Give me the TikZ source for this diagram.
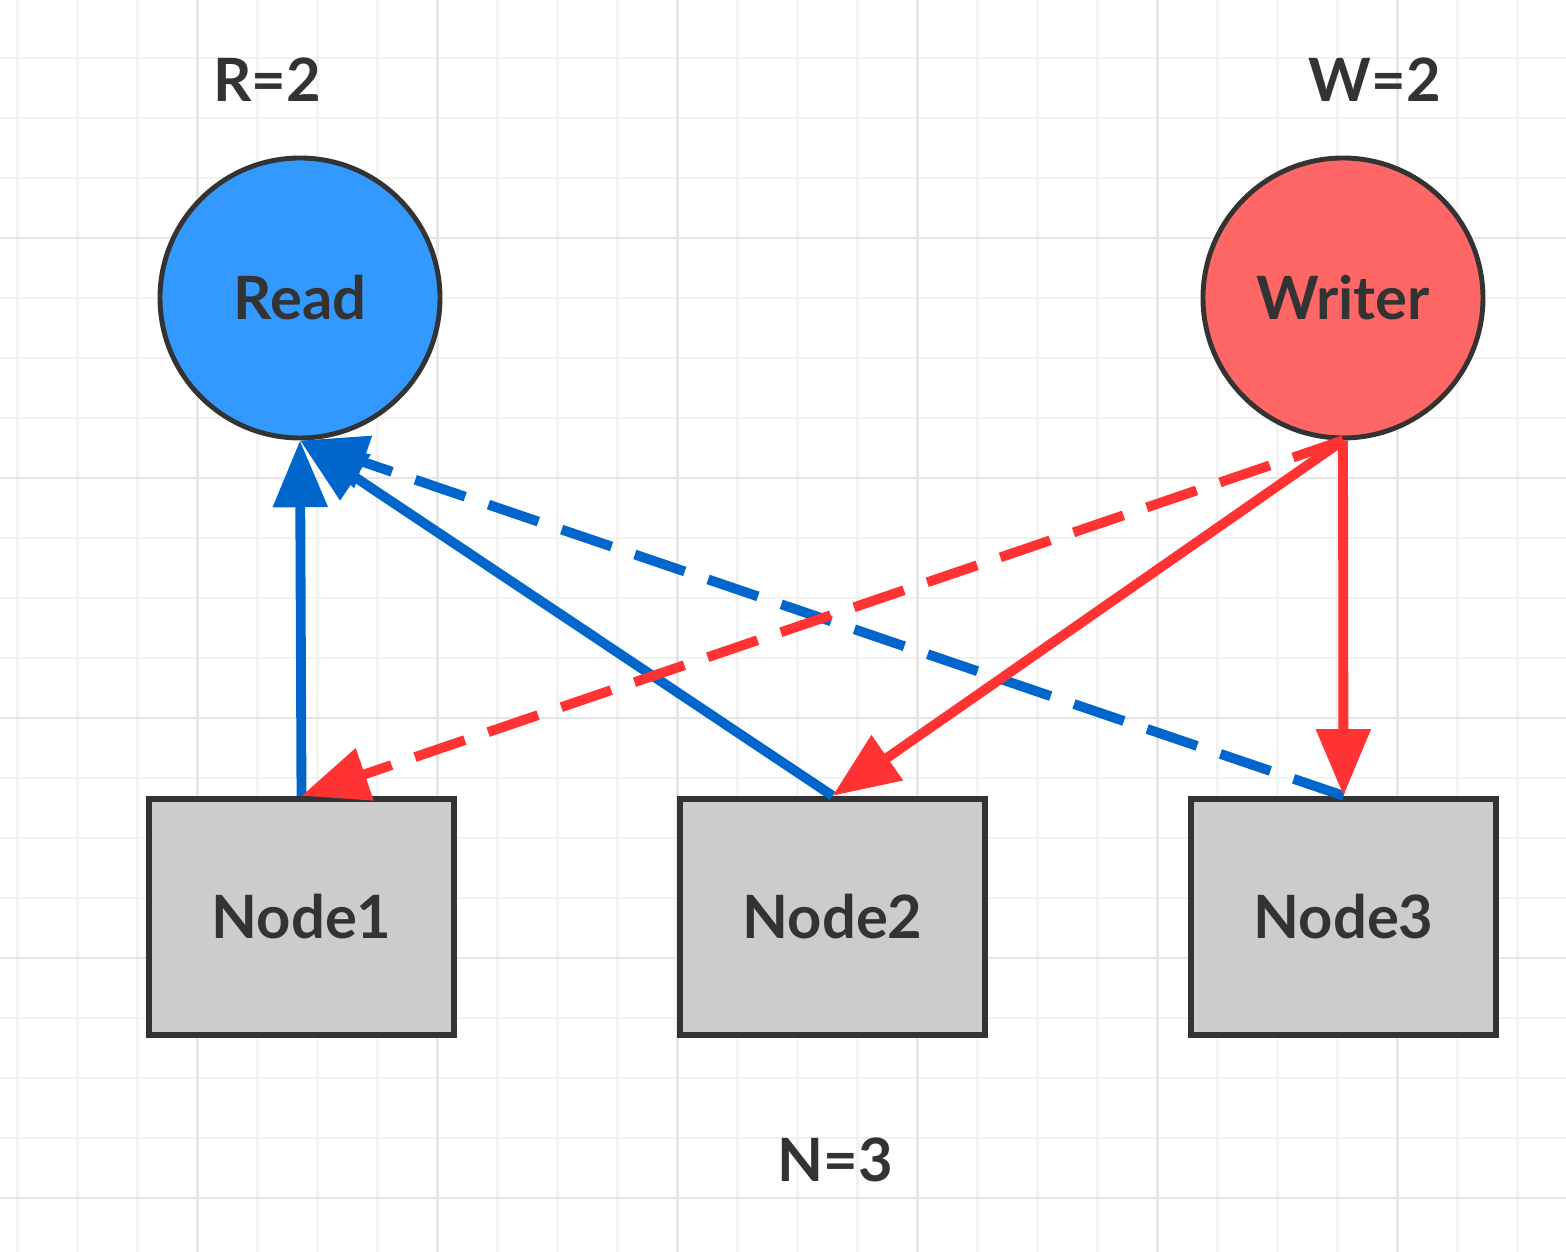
\documentclass[tikz,border=0pt]{standalone}
\usepackage{fontspec}
\setmainfont{Lato}
\usetikzlibrary{arrows.meta}
\definecolor{readblue}{HTML}{3399FF}
\definecolor{writered}{HTML}{FF6666}
\definecolor{lineblue}{HTML}{0066CC}
\definecolor{linered}{HTML}{FF3333}
\definecolor{boxgrey}{HTML}{CCCCCC}
\definecolor{darkline}{HTML}{333333}
\definecolor{gridminor}{HTML}{F2F2F2}
\definecolor{gridmajor}{HTML}{E6E6E6}
\tikzset{
	client/.style={circle, draw=darkline, line width=1.4pt, minimum size=2.8cm, inner sep=0pt, font=\fontsize{17}{20}\selectfont\bfseries, text=darkline},
	replica/.style={rectangle, draw=darkline, line width=1.8pt, fill=boxgrey, minimum width=3.05cm, minimum height=2.36cm, font=\fontsize{17}{20}\selectfont\bfseries, text=darkline},
	quorum/.style={font=\fontsize{17}{20}\selectfont\bfseries, text=darkline},
	link/.style={line width=2.8pt, -{Triangle[length=19pt,width=15pt]}},
	dashlink/.style={link, dash pattern=on 15pt off 7pt}
}

\begin{document}
\begin{tikzpicture}
			%%%%% START %%%%%
			
			\fill[white] (0, 0) rectangle (15.66, 12.52);
			\useasboundingbox (0, 0) rectangle (15.66, 12.52);
			
			% grid
			\foreach \x in {0.175, 0.775, ..., 15.7} {
				\draw[line width=0.8pt, color=gridminor] (\x, 0) -- (\x, 12.52);
			}
			\foreach \y in {0.54, 1.14, ..., 12.6} {
				\draw[line width=0.8pt, color=gridminor] (0, \y) -- (15.66, \y);
			}
			\foreach \x in {1.975, 4.375, ..., 15.7} {
				\draw[line width=0.8pt, color=gridmajor] (\x, 0) -- (\x, 12.52);
			}
			\foreach \y in {0.54, 2.94, ..., 12.6} {
				\draw[line width=0.8pt, color=gridmajor] (0, \y) -- (15.66, \y);
			}
			
			\node[client, fill=readblue] (read) at (3.0, 9.54) {Read};
			\node[client, fill=writered] (writer) at (13.43, 9.54) {Writer};
			
			\node[replica] (node1) at (3.015, 3.35) {Node1};
			\node[replica] (node2) at (8.325, 3.35) {Node2};
			\node[replica] (node3) at (13.435, 3.35) {Node3};
			
			\node[quorum] (rq) at (2.67, 11.72) {R=2};
			\node[quorum] (wq) at (13.75, 11.72) {W=2};
			\node[quorum] (nq) at (8.35, 0.92) {N=3};
			
			\draw[link, color=lineblue] (node1.north) -- (read.south);
			\draw[link, color=lineblue] (node2.north) -- (read.south);
			\draw[dashlink, color=lineblue] (node3.north) -- (read.south);
			
			\draw[dashlink, color=linered] (writer.south) -- (node1.north);
			\draw[link, color=linered] (writer.south) -- (node2.north);
			\draw[link, color=linered] (writer.south) -- (node3.north);
			
			%%%%% END %%%%%
\end{tikzpicture}
\end{document}
